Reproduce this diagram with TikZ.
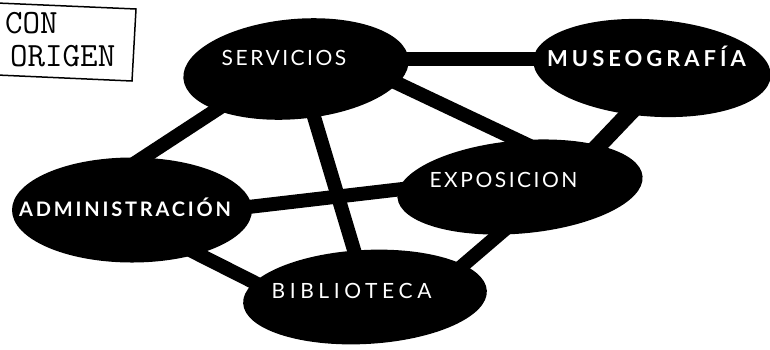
\documentclass[tikz,border=0pt]{standalone}
\usepackage{fontspec}
\usetikzlibrary{shapes.geometric,calc,backgrounds}
\newfontfamily\lblfont[LetterSpace=12]{Lato}
\newfontfamily\lblbold[LetterSpace=6]{Lato}
\begin{document}
\begin{tikzpicture}[x=1pt,y=-1pt,
  blob/.style={ellipse, fill=black, inner sep=0pt},
  lbl/.style={text=white, inner sep=0pt, anchor=base, font=\lblfont\fontsize{21}{21}\selectfont},
  lblb/.style={text=white, inner sep=0pt, anchor=base, font=\lblbold\bfseries\fontsize{20}{20}\selectfont},
  link/.style={line width=14pt},
  stamp/.style={font=\ttfamily\fontsize{34}{34}\selectfont, inner sep=0pt, anchor=base west}]
\useasboundingbox (0,0) rectangle (770,349);

% stamp box
\draw[line width=1.5pt] (-3,3) -- (136,9) -- (132,81) -- (-3,75) -- cycle;
\node[stamp] (con) at (5,33) {CON};
\node[stamp] (origen) at (10,66) {ORIGEN};

% ellipses
\node[blob, minimum width=226pt, minimum height=100pt, rotate=5] (serv) at (296,69) {};
\node[blob, minimum width=238pt, minimum height=97pt, rotate=-4] (mus) at (652,68) {};
\node[blob, minimum width=240pt, minimum height=105pt] (adm) at (132,210) {};
\node[blob, minimum width=246pt, minimum height=93pt, rotate=5] (expo) at (520,187) {};
\node[blob, minimum width=244pt, minimum height=94pt, rotate=3] (bib) at (365,297) {};

% labels
\node[lbl] (servt) at ($(serv)+(-12,-4)$) {SERVICIOS};
\node[lblb, font=\lblbold\bfseries\fontsize{22}{22}\selectfont\addfontfeatures{LetterSpace=18}] (must) at ($(mus)+(-5.5,-2)$) {MUSEOGRAFÍA};
\node[lblb, font=\lblbold\bfseries\fontsize{20}{20}\selectfont\addfontfeatures{LetterSpace=14}] (admt) at ($(adm)+(-7,6)$) {ADMINISTRACIÓN};
\node[lbl] (expot) at ($(expo)+(-16.5,0)$) {EXPOSICION};
\node[lbl, font=\lblfont\fontsize{21}{21}\selectfont\addfontfeatures{LetterSpace=22}] (bibt) at ($(bib)+(-13.5,1)$) {BIBLIOTECA};

% connectors
\begin{scope}[on background layer]
\draw[link] ($(serv)+(100,-10)$) -- ($(mus)+(-100,-9)$);
\draw[link] ($(serv)+(-60,28)$) -- ($(adm)+(0,-45)$);
\draw[link] ($(serv)+(10,21)$) -- ($(bib)+(-5,-27)$);
\draw[link] ($(serv)+(84,6)$) -- ($(expo)+(10,-41)$);
\draw[link, line width=17pt] ($(mus)+(-10,32)$) -- ($(expo)+(60,-22)$);
\draw[link] ($(adm)+(88,0.3)$) -- ($(expo)+(-90,-1.2)$);
\draw[link] ($(adm)+(58,40)$) -- ($(bib)+(-75,3.5)$);
\draw[link] ($(expo)+(-10,38)$) -- ($(bib)+(75,-12)$);
\end{scope}
\end{tikzpicture}
\end{document}
